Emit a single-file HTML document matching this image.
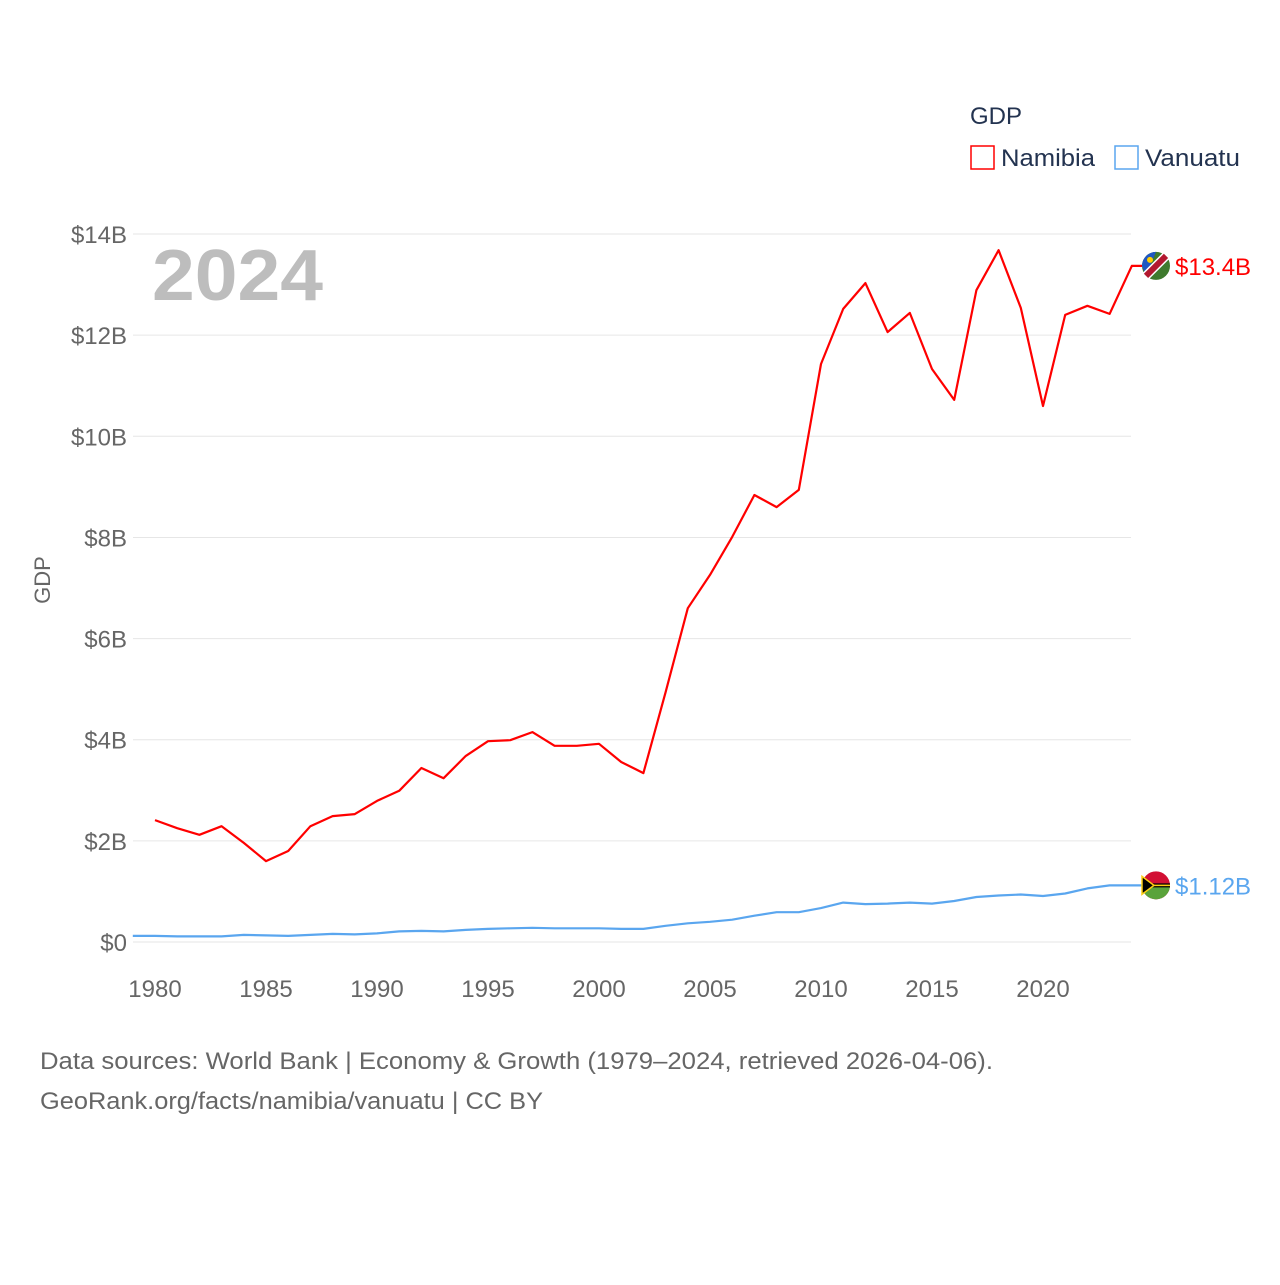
<!DOCTYPE html>
<html><head><meta charset="utf-8"><style>
body{margin:0;background:#fff;font-family:"Liberation Sans",sans-serif}
svg text{font-family:"Liberation Sans",sans-serif}
</style></head><body>
<svg id="chart" width="1280" height="1280" xmlns="http://www.w3.org/2000/svg">
<rect width="1280" height="1280" fill="#fff"/>
<g id="grid"></g>
<text x="152" y="300" font-size="72" font-weight="bold" fill="#bdbdbd" textLength="171" lengthAdjust="spacingAndGlyphs">2024</text>
<text x="50" y="580" font-size="22" fill="#666" transform="rotate(-90 50 580)" text-anchor="middle">GDP</text>
<g id="series"></g>
<g>
<text x="970" y="124" font-size="24" fill="#233350">GDP</text>
<g><rect x="971" y="146" width="23" height="23" fill="none" stroke="#ff0000" stroke-width="1.5"/><text x="1001" y="166" font-size="24" fill="#233350" textLength="94" lengthAdjust="spacingAndGlyphs">Namibia</text></g>
<g><rect x="1115" y="146" width="23" height="23" fill="none" stroke="#5aa6ef" stroke-width="1.5"/><text x="1145" y="166" font-size="24" fill="#233350" textLength="95" lengthAdjust="spacingAndGlyphs">Vanuatu</text></g>
</g>
<text x="40" y="1069" font-size="24" fill="#666" textLength="953" lengthAdjust="spacingAndGlyphs">Data sources: World Bank | Economy &amp; Growth (1979–2024, retrieved 2026-04-06).</text>
<text x="40" y="1109" font-size="24" fill="#666" textLength="503" lengthAdjust="spacingAndGlyphs">GeoRank.org/facts/namibia/vanuatu | CC BY</text>
</svg>
<script>
const namibiaYears=[1980,1981,1982,1983,1984,1985,1986,1987,1988,1989,1990,1991,1992,1993,1994,1995,1996,1997,1998,1999,2000,2001,2002,2003,2004,2005,2006,2007,2008,2009,2010,2011,2012,2013,2014,2015,2016,2017,2018,2019,2020,2021,2022,2023,2024];
const namibiaGDP=[2.41,2.25,2.12,2.29,1.96,1.60,1.80,2.29,2.49,2.53,2.79,2.99,3.44,3.24,3.68,3.97,3.99,4.15,3.88,3.88,3.92,3.56,3.34,4.94,6.60,7.26,8.01,8.84,8.60,8.94,11.43,12.52,13.03,12.06,12.44,11.33,10.72,12.89,13.68,12.54,10.60,12.40,12.58,12.42,13.37];
const vanuatuYears=[1979,1980,1981,1982,1983,1984,1985,1986,1987,1988,1989,1990,1991,1992,1993,1994,1995,1996,1997,1998,1999,2000,2001,2002,2003,2004,2005,2006,2007,2008,2009,2010,2011,2012,2013,2014,2015,2016,2017,2018,2019,2020,2021,2022,2023,2024];
const vanuatuGDP=[0.12,0.12,0.11,0.11,0.11,0.14,0.13,0.12,0.14,0.16,0.15,0.17,0.21,0.22,0.21,0.24,0.26,0.27,0.28,0.27,0.27,0.27,0.26,0.26,0.32,0.37,0.40,0.44,0.52,0.59,0.59,0.67,0.78,0.75,0.76,0.78,0.76,0.81,0.89,0.92,0.94,0.91,0.96,1.06,1.12,1.12];
const yTicks=[0,2,4,6,8,10,12,14];
const yTickLabels=["$0","$2B","$4B","$6B","$8B","$10B","$12B","$14B"];
const xTicks=[1980,1985,1990,1995,2000,2005,2010,2015,2020];
const NS="http://www.w3.org/2000/svg";
const x=y=>155+(y-1980)*22.2;
const yS=v=>942-v*50.57;
function el(t,a,p){const e=document.createElementNS(NS,t);for(const k in a)e.setAttribute(k,a[k]);p.appendChild(e);return e;}
const grid=document.getElementById('grid');
yTicks.forEach((v,i)=>{
 const l=el('line',{x1:133,x2:1131,y1:yS(v),y2:yS(v),stroke:'#e6e6e6','stroke-width':1},grid);
 
 
 const t=el('text',{x:127,y:yS(v)+9,'font-size':24,fill:'#666','text-anchor':'end'},grid);
 t.textContent=yTickLabels[i];
 
 
});
xTicks.forEach(v=>{
 const t=el('text',{x:x(v),y:997,'font-size':24,fill:'#666','text-anchor':'middle'},grid);
 t.textContent=v;
 
 
});
const s=document.getElementById('series');
function line(years,vals,color,name,label,flag){
 let d=years.map((yr,i)=>(i?'L':'M')+x(yr).toFixed(1)+' '+yS(vals[i]).toFixed(1)).join(' ');
 const last=vals[vals.length-1];
 d+=' L1142 '+yS(last).toFixed(1);
 const p=el('path',{d:d,fill:'none',stroke:color,'stroke-width':2.2,'stroke-linejoin':'round'},s);
 
 
 const cy=yS(last);
 const g=el('g',{},s);
 
 
 flag(g,1156,cy);
 const t=el('text',{x:1175,y:cy+9,'font-size':24,fill:color},s);
 t.textContent=label;
 
 
}
line(namibiaYears,namibiaGDP,'#ff0000','namibia','$13.4B',(g,cx,cy)=>{
 el('circle',{cx:cx,cy:cy,r:14,fill:'#3f7a2e'},g);
 el('path',{d:`M${cx-14} ${cy} A14 14 0 0 1 ${cx} ${cy-14} L${cx-10} ${cy+10} Z`,fill:'#1f57c3'},g);
 el('line',{x1:cx-10,y1:cy+10,x2:cx+10,y2:cy-10,stroke:'#fff','stroke-width':9},g);
 el('line',{x1:cx-10,y1:cy+10,x2:cx+10,y2:cy-10,stroke:'#b3182f','stroke-width':6},g);
 el('circle',{cx:cx-6,cy:cy-6,r:3,fill:'#ffce00'},g);
});
line(vanuatuYears,vanuatuGDP,'#5aa6ef','vanuatu','$1.12B',(g,cx,cy)=>{
 el('circle',{cx:cx,cy:cy,r:14,fill:'#d21034'},g);
 el('path',{d:`M${cx-14} ${cy} L${cx+14} ${cy} A14 14 0 0 1 ${cx-14} ${cy} Z`,fill:'#5aa33a'},g);
 el('line',{x1:cx-14,y1:cy,x2:cx+14,y2:cy,stroke:'#000','stroke-width':4},g);
 el('line',{x1:cx-14,y1:cy,x2:cx+14,y2:cy,stroke:'#fdce12','stroke-width':1.5},g);
 el('path',{d:`M${cx-14} ${cy-9} L${cx-2} ${cy} L${cx-14} ${cy+9} Z`,fill:'#000',stroke:'#fdce12','stroke-width':1.5},g);
});
</script>
</body></html>
